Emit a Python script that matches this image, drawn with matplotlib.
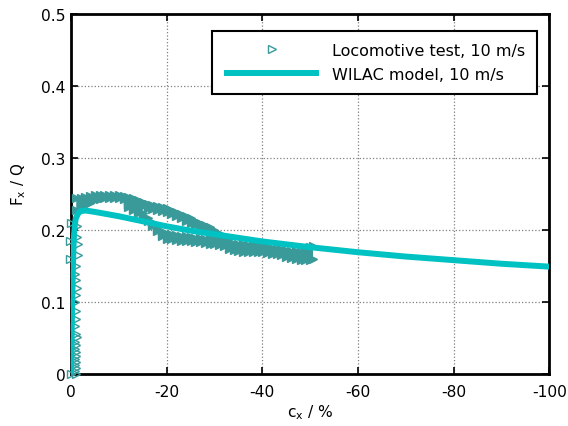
import numpy as np
import matplotlib
matplotlib.use("Agg")
import matplotlib.pyplot as plt

plt.rcParams['font.family'] = ['DejaVu Sans']
plt.rcParams['mathtext.fontset'] = 'dejavusans'
plt.rcParams['axes.unicode_minus'] = False

# locomotive test, 10 m/s -- creep rise at the origin
rise_cx = [-1.0, -0.9, -1.1, -0.8, -1.0, -0.9, -1.0, -1.1, -0.9, -1.0,
           -0.9, -1.2, -1.0, -0.9, -1.1, -1.0, -0.9, -1.0, -1.2, -1.0,
           -0.9, -1.1, -1.4, -1.5, -1.3, -1.2, -0.1, 0.2, 0.2, 0.1]
rise_fx = [0.000, 0.004, 0.008, 0.012, 0.016, 0.021, 0.025, 0.030, 0.035, 0.040,
           0.044, 0.051, 0.056, 0.067, 0.076, 0.088, 0.100, 0.109, 0.120, 0.130,
           0.139, 0.150, 0.165, 0.180, 0.190, 0.205, 0.000, 0.160, 0.185, 0.210]

# upper branch of the measured band: creep, upper and lower sample envelope
upper_cx = [-1, -2, -3, -4, -5, -6, -7, -8, -9, -10, -11, -12, -13, -14, -15, -16,
            -17, -18, -19, -20, -21, -22, -23, -24, -25, -26, -27, -28, -29, -30,
            -31, -32, -33]
upper_hi = [0.245, 0.245, 0.246, 0.247, 0.248, 0.248, 0.249, 0.249, 0.249, 0.248,
            0.247, 0.246, 0.244, 0.242, 0.239, 0.236, 0.234, 0.233, 0.232, 0.231,
            0.228, 0.225, 0.222, 0.219, 0.216, 0.213, 0.210, 0.207, 0.204, 0.200,
            0.196, 0.192, 0.188]
upper_lo = [0.228, 0.232, 0.235, 0.238, 0.241, 0.243, 0.244, 0.245, 0.245, 0.244,
            0.243, 0.241, 0.239, 0.236, 0.233, 0.231, 0.229, 0.228, 0.226, 0.225,
            0.222, 0.219, 0.216, 0.213, 0.210, 0.207, 0.204, 0.201, 0.198, 0.195,
            0.191, 0.187, 0.183]

# lower (return) branch of the measured band
lower_cx = [-12, -13, -14, -15, -16, -17, -18, -19, -20, -21, -22, -23, -24, -25,
            -26, -27, -28, -29, -30, -31, -32, -33, -34, -35, -36, -37, -38, -39,
            -40, -41, -42, -43, -44, -45, -46, -47, -48, -49, -50, -50.5]
lower_hi = [0.236, 0.233, 0.229, 0.224, 0.217, 0.211, 0.205, 0.199, 0.195, 0.194,
            0.193, 0.192, 0.191, 0.190, 0.189, 0.189, 0.188, 0.187, 0.187, 0.186,
            0.184, 0.182, 0.181, 0.180, 0.180, 0.179, 0.179, 0.178, 0.178, 0.177,
            0.175, 0.174, 0.173, 0.172, 0.171, 0.171, 0.170, 0.172, 0.176, 0.178]
lower_lo = [0.232, 0.228, 0.223, 0.218, 0.212, 0.206, 0.199, 0.192, 0.188, 0.187,
            0.186, 0.185, 0.184, 0.184, 0.183, 0.183, 0.182, 0.181, 0.180, 0.179,
            0.177, 0.174, 0.172, 0.171, 0.170, 0.169, 0.169, 0.169, 0.169, 0.168,
            0.167, 0.166, 0.165, 0.163, 0.161, 0.159, 0.158, 0.158, 0.158, 0.160]

# WILAC model, 10 m/s
model_cx = [0, -0.2, -0.4, -0.6, -0.8, -1.0, -1.5, -2, -3, -5, -10, -15, -20,
            -25, -30, -35, -40, -50, -60, -70, -80, -90, -100]
model_fx = [0.0, 0.08, 0.15, 0.19, 0.207, 0.216, 0.223, 0.226, 0.227, 0.225,
            0.219, 0.212, 0.205, 0.199, 0.194, 0.189, 0.184, 0.176, 0.169,
            0.163, 0.158, 0.153, 0.149]

x_ticks = [0, -20, -40, -60, -80, -100]
y_ticks = [0, 0.1, 0.2, 0.3, 0.4, 0.5]
y_ticklabels = ['0', '0.1', '0.2', '0.3', '0.4', '0.5']

test_color = '#3a9a9a'
model_color = '#00c2c2'
fs = 11.2

fig = plt.figure(figsize=(5.68, 4.27), dpi=100)
ax = fig.add_axes([0.125, 0.122, 0.842, 0.843])

marker_kw = dict(linestyle='none', marker='>', markersize=6,
                 markeredgecolor=test_color, markeredgewidth=1.0,
                 clip_on=False, zorder=3)

# the dense samples merge into a solid band: fill the envelope and put
# (overlapping, hence filled) sample markers along both edges
for bx, hi, lo in [(upper_cx, upper_hi, upper_lo), (lower_cx, lower_hi, lower_lo)]:
    ax.fill_between(bx, lo, hi, color=test_color, linewidth=0, zorder=3)
    ax.plot(bx, hi, markerfacecolor=test_color, **marker_kw)
    ax.plot(bx, lo, markerfacecolor=test_color, **marker_kw)
ax.plot(rise_cx, rise_fx, markerfacecolor='none',
        label='Locomotive test, 10 m/s', **marker_kw)

ax.plot(model_cx, model_fx, color=model_color, linewidth=4.3,
        solid_capstyle='butt', zorder=4, label='WILAC model, 10 m/s')

ax.set_xlim(0, -100)
ax.set_ylim(0, 0.5)
ax.set_xticks(x_ticks)
ax.set_yticks(y_ticks)
ax.set_yticklabels(y_ticklabels)
ax.tick_params(direction='in', length=5, width=1.2, labelsize=fs,
               top=True, right=True)
ax.tick_params(axis='x', pad=7)
ax.tick_params(axis='y', pad=4)
ax.grid(True, linestyle=':', color='#808080', linewidth=0.9)
ax.set_axisbelow(True)
for s in ax.spines.values():
    s.set_linewidth(2.0)

ax.set_xlabel(r'c$_\mathregular{x}$ / %', fontsize=fs, labelpad=3)
ax.set_ylabel(r'F$_\mathregular{x}$ / Q', fontsize=fs - 0.4)
ax.yaxis.set_label_coords(-0.09, 0.53)

leg = ax.legend(loc='upper right', bbox_to_anchor=(0.975, 0.953), borderaxespad=0,
                fontsize=fs + 0.3, handlelength=5.9, numpoints=1, fancybox=False,
                framealpha=1, edgecolor='black', labelspacing=0.55,
                handletextpad=0.85, borderpad=0.75)
leg.get_frame().set_linewidth(1.5)

fig.savefig('out.png', dpi=100)
